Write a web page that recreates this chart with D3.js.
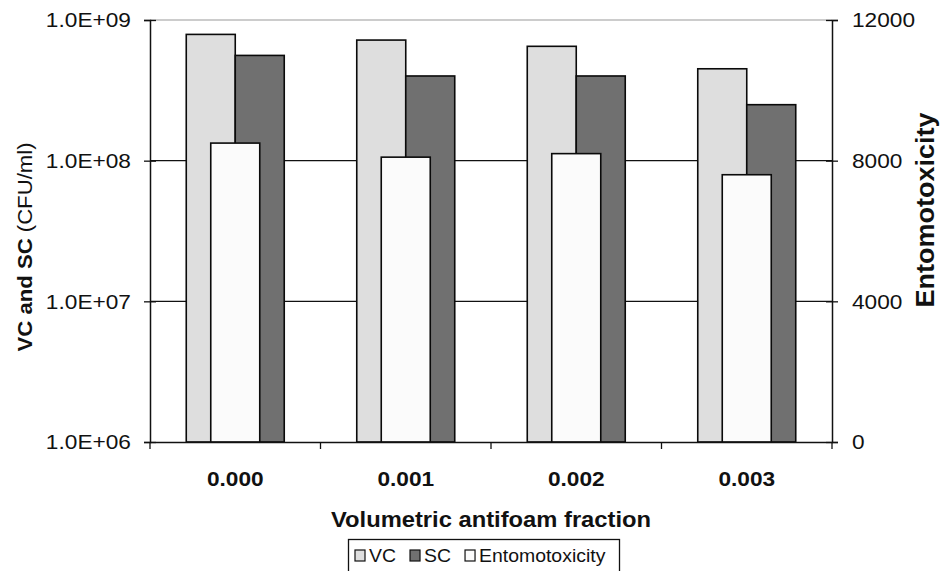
<!DOCTYPE html>
<html>
<head>
<meta charset="utf-8">
<script src="https://cdn.jsdelivr.net/npm/d3@7"></script>
<style>
  body { margin: 0; background: #fff; }
  text { font-family: "Liberation Sans", Arial, sans-serif; fill: #111; }
</style>
</head>
<body>
<script>
// data
var fractions = ["0.000", "0.001", "0.002", "0.003"];
var vc = [7.9e8, 7.2e8, 6.5e8, 4.5e8];      // viable count, CFU/ml
var sc = [5.6e8, 4.0e8, 4.0e8, 2.5e8];      // spore count, CFU/ml
var ento = [8500, 8100, 8200, 7600];        // entomotoxicity
var leftTicks = [1e6, 1e7, 1e8, 1e9];
var rightTicks = [0, 4000, 8000, 12000];
var seriesNames = ["VC", "SC", "Entomotoxicity"];

var W = 940, H = 571;
var plot = {left: 150, right: 832, top: 20, bottom: 442};
var SX = 1.08; // the scanned text is a bit wide

var svg = d3.select("body").append("svg")
  .attr("width", W).attr("height", H);

var x = d3.scaleBand().domain(fractions).range([plot.left, plot.right]);
var inner = d3.scaleBand().domain(["VC", "SC"]).range([0, x.bandwidth()]).paddingOuter(0.74);
var yL = d3.scaleLog().domain([1e6, 1e9]).range([plot.bottom, plot.top]);
var yR = d3.scaleLinear().domain([0, 12000]).range([plot.bottom, plot.top]);

var colors = {VC: "#dedede", SC: "#707070", Entomotoxicity: "#fbfbfb"};

// stretch a text element along its baseline
function stretch(sel) {
  sel.each(function() {
    var t = d3.select(this);
    var tx = +t.attr("x") || 0;
    t.attr("x", 0).attr("transform", "translate(" + tx + ",0) scale(" + SX + ",1)");
  });
}

// gridlines
svg.append("g").selectAll("line").data([1e7, 1e8]).join("line")
  .attr("x1", plot.left).attr("x2", plot.right)
  .attr("y1", d => yL(d)).attr("y2", d => yL(d))
  .attr("stroke", "#111").attr("stroke-width", 1.3);
svg.append("line")
  .attr("x1", plot.left).attr("x2", plot.right)
  .attr("y1", yL(1e9)).attr("y2", yL(1e9))
  .attr("stroke", "#9a9a9a").attr("stroke-width", 1.2);

// VC / SC bars
var groups = svg.append("g").selectAll("g").data(fractions).join("g")
  .attr("transform", d => "translate(" + x(d) + ",0)");
groups.selectAll("rect.cnt")
  .data((d, i) => [{k: "VC", v: vc[i]}, {k: "SC", v: sc[i]}])
  .join("rect").attr("class", "cnt")
  .attr("x", d => inner(d.k)).attr("width", inner.bandwidth())
  .attr("y", d => yL(d.v)).attr("height", d => plot.bottom - yL(d.v))
  .attr("fill", d => colors[d.k]).attr("stroke", "#0a0a0a").attr("stroke-width", 1.6);

// entomotoxicity bars in front
groups.append("rect")
  .attr("x", (x.bandwidth() - inner.bandwidth()) / 2)
  .attr("width", inner.bandwidth())
  .attr("y", (d, i) => yR(ento[i]))
  .attr("height", (d, i) => plot.bottom - yR(ento[i]))
  .attr("fill", colors.Entomotoxicity).attr("stroke", "#0a0a0a").attr("stroke-width", 1.6);

// left axis
var axL = svg.append("g").attr("transform", "translate(" + plot.left + ",0)")
  .call(d3.axisLeft(yL).tickValues(leftTicks).tickSize(6).tickPadding(13)
    .tickFormat(d => "1.0E+0" + Math.round(Math.log10(d))));
axL.select(".domain").attr("stroke", "#111").attr("stroke-width", 1.5);
axL.selectAll(".tick line").attr("x1", -6).attr("x2", 6).attr("stroke", "#111").attr("stroke-width", 1.3);
axL.selectAll(".tick text").attr("font-size", 21).attr("font-family", null)
  .attr("text-anchor", "start")
  .each(function() {
    var t = d3.select(this);
    var w = this.getComputedTextLength() * SX;
    t.attr("x", -19 - w);
  })
  .call(stretch);

// right axis
var axR = svg.append("g").attr("transform", "translate(" + plot.right + ",0)")
  .call(d3.axisRight(yR).tickValues(rightTicks).tickSize(6).tickPadding(14).tickFormat(d3.format("d")));
axR.select(".domain").attr("stroke", "#111").attr("stroke-width", 1.5);
axR.selectAll(".tick line").attr("x1", -6).attr("x2", 6).attr("stroke", "#111").attr("stroke-width", 1.3);
axR.selectAll(".tick text").attr("font-size", 21).attr("font-family", null).call(stretch);

// bottom axis: labels centred, ticks on category boundaries
var axB = svg.append("g").attr("transform", "translate(0," + plot.bottom + ")")
  .call(d3.axisBottom(x).tickSize(0).tickPadding(29));
axB.select(".domain").attr("stroke", "#111").attr("stroke-width", 1.5);
axB.selectAll(".tick text").attr("font-size", 21).attr("font-weight", "bold").attr("font-family", null)
  .call(stretch);
axB.selectAll("line.bound").data(fractions.concat([null])).join("line").attr("class", "bound")
  .attr("x1", d => d === null ? plot.right : x(d)).attr("x2", d => d === null ? plot.right : x(d))
  .attr("y1", 0).attr("y2", 7).attr("stroke", "#111").attr("stroke-width", 1.3);

// axis titles
svg.append("text")
  .attr("transform", "translate(" + ((plot.left + plot.right) / 2) + ",527) scale(" + SX + ",1)")
  .attr("text-anchor", "middle").attr("font-size", 22).attr("font-weight", "bold")
  .text("Volumetric antifoam fraction");

var lt = svg.append("text")
  .attr("transform", "translate(32,247) rotate(-90) scale(" + SX + ",1)")
  .attr("text-anchor", "middle").attr("font-size", 20.5);
lt.append("tspan").attr("font-weight", "bold").text("VC and SC ");
lt.append("tspan").text("(CFU/ml)");

svg.append("text")
  .attr("transform", "translate(934,210) rotate(-90) scale(" + SX + ",1)")
  .attr("text-anchor", "middle").attr("font-size", 25).attr("font-weight", "bold")
  .text("Entomotoxicity");

// legend
var leg = svg.append("g");
leg.append("rect").attr("x", 348.5).attr("y", 539.5).attr("width", 271).attr("height", 40)
  .attr("fill", "#fff").attr("stroke", "#111").attr("stroke-width", 1.3);
var lx = 355;
seriesNames.forEach(function(name) {
  leg.append("rect").attr("x", lx).attr("y", 550).attr("width", 10).attr("height", 11)
    .attr("fill", colors[name]).attr("stroke", "#111").attr("stroke-width", 1.2);
  var t = leg.append("text").attr("font-size", 18).text(name);
  var w = t.node().getComputedTextLength() * SX;
  t.attr("transform", "translate(" + (lx + 14) + ",562) scale(" + SX + ",1)");
  lx += 14 + w + 14;
});
</script>
</body>
</html>
